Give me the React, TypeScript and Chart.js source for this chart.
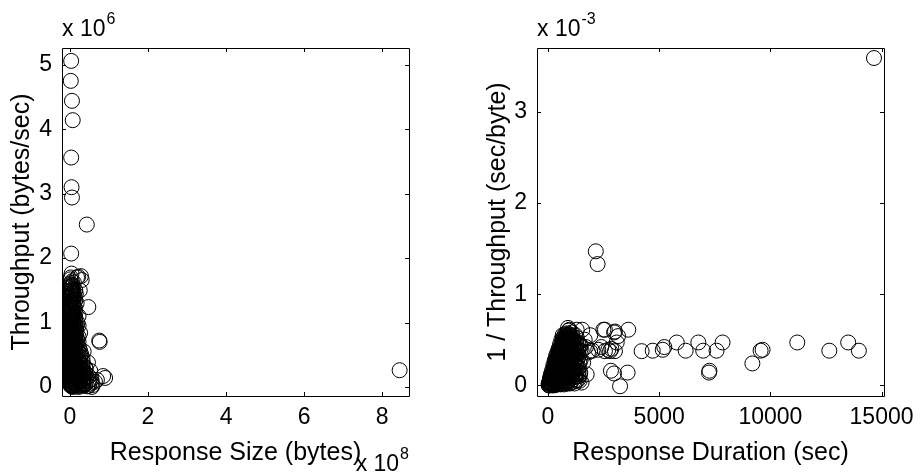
import { useEffect, useRef } from "react";
import { Chart, registerables } from "chart.js";

Chart.register(...registerables);

const FONT = "'Liberation Sans', Arial, Helvetica, sans-serif";
const TICK_SIZE = 23;
const TITLE_SIZE = 25;

type Pt = [number, number];

// ---------- Left panel: Response Size (x 1e8 bytes) vs Throughput (x 1e6 bytes/sec)
const sizeOutliers: Pt[] = [
  [0.03, 5.06], [0.02, 4.75], [0.05, 4.44], [0.07, 4.14], [0.03, 3.56], [0.04, 3.10],
  [0.05, 2.94], [0.43, 2.52], [0.03, 2.07], [8.45, 0.26], [0.75, 0.72], [0.76, 0.70],
  [0.64, 0.08], [0.69, 0.11], [0.85, 0.17], [0.90, 0.14], [0.47, 1.24], [0.21, 1.71],
  [0.30, 1.66], [0.28, 1.72], [0.25, 1.50], [0.26, 0.84],
];
const sizeColumnA: Pt[] = [
  [0.04, 1.76], [0.02, 1.70], [0.05, 1.64], [0.01, 1.59], [0.03, 1.55], [0.06, 1.50],
  [0.02, 1.46], [0.04, 1.42], [0.01, 1.38], [0.05, 1.34], [0.03, 1.30], [0.02, 1.26],
  [0.06, 1.22], [0.01, 1.18], [0.04, 1.14], [0.03, 1.10], [0.05, 1.06], [0.02, 1.02],
  [0.04, 0.98], [0.01, 0.94], [0.03, 0.90], [0.06, 0.86], [0.02, 0.82], [0.04, 0.78],
  [0.01, 0.74], [0.05, 0.70], [0.03, 0.66], [0.02, 0.62], [0.04, 0.58], [0.01, 0.54],
  [0.06, 0.50], [0.03, 0.46], [0.02, 0.42], [0.05, 0.38], [0.01, 0.34], [0.04, 0.30],
  [0.03, 0.26], [0.02, 0.22], [0.05, 0.18], [0.01, 0.14], [0.04, 0.10], [0.02, 0.06],
  [0.03, 0.03], [0.05, 0.01],
];
const sizeColumnB: Pt[] = [
  [0.10, 1.62], [0.08, 1.48], [0.12, 1.40], [0.09, 1.33], [0.11, 1.25], [0.08, 1.18],
  [0.10, 1.12], [0.12, 1.05], [0.09, 0.98], [0.11, 0.92], [0.08, 0.85], [0.10, 0.80],
  [0.12, 0.74], [0.09, 0.68], [0.11, 0.62], [0.08, 0.56], [0.10, 0.50], [0.12, 0.44],
  [0.09, 0.38], [0.11, 0.32], [0.08, 0.26], [0.10, 0.20], [0.12, 0.14], [0.09, 0.08],
  [0.11, 0.02],
];
const sizeColumnC: Pt[] = [
  [0.18, 1.70], [0.15, 1.44], [0.17, 1.30], [0.14, 1.15], [0.19, 1.00], [0.16, 0.90],
  [0.14, 0.80], [0.18, 0.72], [0.15, 0.64], [0.20, 0.56], [0.16, 0.48], [0.14, 0.40],
  [0.19, 0.33], [0.17, 0.26], [0.15, 0.19], [0.20, 0.12], [0.16, 0.05], [0.18, 0.01],
];
const sizeColumnD: Pt[] = [
  [0.24, 0.60], [0.29, 0.50], [0.22, 0.42], [0.27, 0.34], [0.30, 0.27], [0.23, 0.20],
  [0.28, 0.13], [0.25, 0.07], [0.29, 0.02], [0.35, 0.55], [0.33, 0.38], [0.40, 0.30],
  [0.36, 0.22], [0.42, 0.15], [0.34, 0.09], [0.38, 0.04], [0.44, 0.01], [0.46, 0.38],
  [0.52, 0.25], [0.55, 0.12], [0.50, 0.05], [0.58, 0.03],
];
const sizeCore: Pt[] = [
  [0.00, 0.05], [0.00, 0.12], [0.00, 0.19], [0.00, 0.27], [0.00, 0.35], [0.00, 0.43],
  [0.00, 0.51], [0.00, 0.59], [0.00, 0.67], [0.00, 0.75], [0.00, 0.83], [0.00, 0.91],
  [0.00, 0.99], [0.00, 1.08], [0.00, 1.16], [0.00, 1.24], [0.00, 1.32], [0.00, 1.40],
  [0.00, 1.48], [0.00, 1.56],
  [0.065, 0.00], [0.065, 0.09], [0.065, 0.16], [0.065, 0.23], [0.065, 0.31], [0.065, 0.39],
  [0.065, 0.47], [0.065, 0.55], [0.065, 0.63], [0.065, 0.71], [0.065, 0.79], [0.065, 0.87],
  [0.065, 0.95], [0.065, 1.03], [0.065, 1.12], [0.065, 1.20], [0.065, 1.28], [0.065, 1.36],
  [0.065, 1.44], [0.065, 1.52], [0.065, 1.58],
  [0.135, 0.04], [0.135, 0.11], [0.135, 0.18], [0.135, 0.25], [0.135, 0.33], [0.135, 0.41],
  [0.135, 0.49], [0.135, 0.57], [0.135, 0.65], [0.135, 0.73], [0.135, 0.81], [0.135, 0.89],
  [0.135, 0.97], [0.135, 1.08], [0.135, 1.22], [0.135, 1.35], [0.135, 1.50],
  [0.22, 0.00], [0.22, 0.09], [0.22, 0.16], [0.22, 0.24], [0.22, 0.31], [0.22, 0.38],
  [0.22, 0.45], [0.22, 0.53], [0.22, 0.62], [0.22, 0.70], [0.22, 0.78], [0.22, 0.95],
  [0.22, 1.10],
  [0.32, 0.03], [0.32, 0.10], [0.32, 0.18], [0.32, 0.26], [0.32, 0.35], [0.32, 0.45],
  [0.40, 0.05], [0.40, 0.13], [0.40, 0.21], [0.40, 0.28],
  [0.48, 0.02], [0.48, 0.09], [0.48, 0.17], [0.56, 0.00], [0.56, 0.07],
];
const sizeCoreDense: Pt[] = [
  [0.015, 0.02], [0.02, 0.08], [0.01, 0.11], [0.015, 0.17], [0.02, 0.23], [0.01, 0.26],
  [0.015, 0.33], [0.02, 0.36], [0.01, 0.44], [0.015, 0.47], [0.02, 0.52], [0.01, 0.58],
  [0.015, 0.61], [0.02, 0.69], [0.01, 0.72], [0.015, 0.77], [0.02, 0.84], [0.01, 0.88],
  [0.015, 0.93], [0.02, 0.97], [0.01, 1.04], [0.015, 1.09], [0.02, 1.13], [0.01, 1.19],
  [0.015, 1.21], [0.02, 1.28], [0.01, 1.34], [0.015, 1.37], [0.02, 1.43], [0.01, 1.49],
  [0.015, 1.53], [0.02, 1.61], [0.01, 1.67],
  [0.045, 0.04], [0.05, 0.07], [0.04, 0.14], [0.045, 0.21], [0.05, 0.24], [0.04, 0.29],
  [0.045, 0.37], [0.05, 0.41], [0.04, 0.45], [0.045, 0.53], [0.05, 0.56], [0.04, 0.63],
  [0.045, 0.68], [0.05, 0.73], [0.04, 0.81], [0.045, 0.85], [0.05, 0.91], [0.04, 0.96],
  [0.045, 1.01], [0.05, 1.07], [0.04, 1.15], [0.045, 1.18], [0.05, 1.24], [0.04, 1.31],
  [0.045, 1.39], [0.05, 1.45], [0.04, 1.51], [0.045, 1.57],
  [0.09, 0.01], [0.095, 0.06], [0.085, 0.13], [0.09, 0.17], [0.095, 0.22], [0.085, 0.29],
  [0.09, 0.35], [0.095, 0.41], [0.085, 0.46], [0.09, 0.53], [0.095, 0.59], [0.085, 0.66],
  [0.09, 0.71], [0.095, 0.77], [0.085, 0.83], [0.09, 0.89], [0.095, 0.94], [0.085, 1.02],
  [0.09, 1.09], [0.095, 1.15], [0.085, 1.27], [0.09, 1.37], [0.095, 1.46],
  [0.17, 0.03], [0.175, 0.08], [0.165, 0.15], [0.17, 0.22], [0.175, 0.29], [0.165, 0.36],
  [0.17, 0.44], [0.175, 0.52], [0.165, 0.60], [0.17, 0.68], [0.175, 0.76], [0.165, 0.85],
  [0.17, 0.95],
  [0.26, 0.04], [0.265, 0.11], [0.255, 0.18], [0.26, 0.23], [0.265, 0.30], [0.255, 0.37],
  [0.26, 0.46], [0.265, 0.55],
  [0.34, 0.02], [0.345, 0.06], [0.335, 0.13], [0.34, 0.20], [0.345, 0.27],
];
const leftXTicks = [0, 2, 4, 6, 8];
const leftYTicks = [0, 1, 2, 3, 4, 5];

// ---------- Right panel: Response Duration (sec) vs 1/Throughput (x 1e-3 sec/byte)
const durationOutliers: Pt[] = [
  [14660, 3.59], [2150, 1.47], [2230, 1.33],
  [960, 0.61], [1540, 0.61], [2490, 0.61], [2970, 0.58], [3610, 0.61], [3090, 0.47],
  [2260, 0.39], [2710, 0.39], [2850, 0.40], [4210, 0.375], [4710, 0.38], [5160, 0.39],
  [5230, 0.42], [5790, 0.47], [6190, 0.38], [6760, 0.47], [6980, 0.38], [7580, 0.38],
  [7850, 0.47], [7240, 0.14], [7260, 0.16], [9190, 0.24], [9560, 0.38], [9650, 0.39],
  [11210, 0.47], [12650, 0.38], [13500, 0.47], [13980, 0.38],
  [2970, 0.13], [3580, 0.14], [3240, -0.01], [1440, 0.12], [1510, 0.03], [1290, 0.61],
  [900, 0.63], [1440, 0.43], [1580, 0.25], [1740, 0.12], [1515, 0.375], [1890, 0.375],
  [2560, 0.375], [2790, 0.375], [3010, 0.375], [2560, 0.61], [3010, 0.59], [3150, 0.54],
  [1360, 0.14], [1210, 0.25], [2830, 0.16], [1700, 0.42], [1800, 0.36], [2000, 0.38],
  [1650, 0.50], [1900, 0.55], [1300, 0.52], [2400, 0.42],
];
const durationCore: Pt[] = [
  [50, 0.00], [40, 0.02], [70, 0.04], [100, 0.01], [110, 0.05], [90, 0.08], [150, 0.02],
  [140, 0.07], [160, 0.11], [200, 0.00], [210, 0.06], [190, 0.12], [220, 0.15],
  [260, 0.03], [250, 0.09], [270, 0.16], [280, 0.20], [320, 0.01], [310, 0.08], [330, 0.14],
  [300, 0.21], [340, 0.25], [380, 0.04], [370, 0.11], [390, 0.18], [400, 0.24], [380, 0.29],
  [440, 0.02], [430, 0.09], [450, 0.15], [460, 0.22], [440, 0.28], [420, 0.34],
  [500, 0.05], [510, 0.12], [490, 0.19], [520, 0.26], [500, 0.33], [480, 0.38],
  [560, 0.01], [570, 0.08], [550, 0.16], [580, 0.23], [560, 0.30], [540, 0.36], [570, 0.43],
  [620, 0.04], [610, 0.11], [630, 0.19], [640, 0.27], [620, 0.34], [600, 0.41], [630, 0.47],
  [680, 0.02], [690, 0.09], [670, 0.17], [700, 0.25], [680, 0.32], [660, 0.40], [690, 0.46],
  [700, 0.52], [750, 0.06], [760, 0.14], [740, 0.22], [770, 0.30], [750, 0.38], [730, 0.45],
  [760, 0.51], [770, 0.56], [820, 0.03], [830, 0.12], [810, 0.20], [840, 0.29], [820, 0.37],
  [800, 0.44], [830, 0.50], [840, 0.55], [900, 0.05], [910, 0.15], [890, 0.24], [920, 0.33],
  [900, 0.42], [880, 0.49], [910, 0.54], [930, 0.60], [980, 0.02], [990, 0.11], [970, 0.21],
  [1000, 0.31], [980, 0.40], [960, 0.47], [990, 0.53], [1060, 0.08], [1070, 0.18],
  [1050, 0.28], [1080, 0.37], [1060, 0.45], [1040, 0.52], [1070, 0.58], [1150, 0.04],
  [1160, 0.14], [1140, 0.25], [1170, 0.35], [1150, 0.43], [1130, 0.50], [1250, 0.10],
  [1260, 0.22], [1240, 0.33], [1270, 0.41], [1250, 0.48], [1230, 0.55], [1350, 0.06],
  [1360, 0.19], [1340, 0.30], [1370, 0.39], [1350, 0.46], [1450, 0.14], [1460, 0.27],
  [1440, 0.38], [1470, 0.44],
];
const durationCoreFill: Pt[] = [
  [30, 0.00], [30, 0.02], [80, 0.00], [80, 0.03], [80, 0.06], [130, 0.01], [130, 0.05],
  [130, 0.09], [130, 0.12], [180, 0.00], [180, 0.04], [180, 0.08], [180, 0.12], [180, 0.16],
  [240, 0.02], [240, 0.06], [240, 0.11], [240, 0.15], [240, 0.19], [240, 0.22],
  [300, 0.00], [300, 0.05], [300, 0.10], [300, 0.15], [300, 0.20], [300, 0.24], [300, 0.27],
  [360, 0.03], [360, 0.08], [360, 0.13], [360, 0.18], [360, 0.23], [360, 0.28], [360, 0.32],
  [420, 0.01], [420, 0.06], [420, 0.11], [420, 0.16], [420, 0.21], [420, 0.26], [420, 0.31],
  [420, 0.36], [480, 0.04], [480, 0.09], [480, 0.14], [480, 0.19], [480, 0.24], [480, 0.29],
  [480, 0.34], [480, 0.40], [540, 0.02], [540, 0.07], [540, 0.12], [540, 0.17], [540, 0.22],
  [540, 0.27], [540, 0.33], [540, 0.39], [540, 0.45], [600, 0.05], [600, 0.10], [600, 0.15],
  [600, 0.20], [600, 0.25], [600, 0.31], [600, 0.37], [600, 0.44], [600, 0.50],
  [660, 0.03], [660, 0.08], [660, 0.13], [660, 0.18], [660, 0.23], [660, 0.29], [660, 0.35],
  [660, 0.43], [660, 0.49], [660, 0.55], [720, 0.01], [720, 0.06], [720, 0.11], [720, 0.16],
  [720, 0.21], [720, 0.27], [720, 0.33], [720, 0.41], [720, 0.48], [720, 0.54],
  [790, 0.04], [790, 0.09], [790, 0.15], [790, 0.21], [790, 0.27], [790, 0.34], [790, 0.41],
  [790, 0.47], [790, 0.53], [860, 0.02], [860, 0.08], [860, 0.14], [860, 0.20], [860, 0.26],
  [860, 0.33], [860, 0.40], [860, 0.46], [860, 0.52], [860, 0.57], [940, 0.05], [940, 0.12],
  [940, 0.18], [940, 0.25], [940, 0.32], [940, 0.39], [940, 0.45], [940, 0.51], [940, 0.56],
  [1020, 0.03], [1020, 0.10], [1020, 0.16], [1020, 0.23], [1020, 0.30], [1020, 0.37],
  [1020, 0.44], [1020, 0.50], [1020, 0.55], [1100, 0.06], [1100, 0.13], [1100, 0.21],
  [1100, 0.29], [1100, 0.36], [1100, 0.43], [1100, 0.49], [1100, 0.54], [1190, 0.02],
  [1190, 0.09], [1190, 0.17], [1190, 0.26], [1190, 0.34], [1190, 0.41], [1190, 0.47],
  [1280, 0.05], [1280, 0.13], [1280, 0.22], [1280, 0.31], [1280, 0.39], [1280, 0.45],
  [1380, 0.10], [1380, 0.20], [1380, 0.32],
];
const durationCoreExtra: Pt[] = [
  [60, 0.03], [120, 0.03], [170, 0.10], [210, 0.03], [230, 0.13], [270, 0.06], [290, 0.12],
  [330, 0.18], [350, 0.05], [370, 0.22], [400, 0.14], [410, 0.27], [450, 0.07], [460, 0.31],
  [470, 0.18], [510, 0.22], [520, 0.37], [530, 0.10], [550, 0.29], [580, 0.41], [590, 0.14],
  [610, 0.35], [640, 0.22], [650, 0.46], [700, 0.12], [710, 0.37], [730, 0.51], [740, 0.27],
  [780, 0.18], [800, 0.49], [810, 0.32], [850, 0.11], [870, 0.43], [880, 0.29], [920, 0.52],
  [950, 0.16], [960, 0.36], [1000, 0.25], [1010, 0.47], [1040, 0.12], [1090, 0.32],
  [1110, 0.51], [1130, 0.19], [1180, 0.38], [1210, 0.12], [1230, 0.29], [1300, 0.20],
  [1320, 0.36], [1400, 0.25], [1420, 0.05],
];
const rightXTicks = [0, 5000, 10000, 15000];
const rightYTicks = [0, 1, 2, 3];

type PanelCfg = {
  points: Pt[];
  xMin: number;
  xMax: number;
  yMin: number;
  yMax: number;
  xTicks: number[];
  yTicks: number[];
  xTitle: string;
  yTitle: string;
  yAxisWidth: number;
  yTitlePad: number;
  padRight: number;
  yExp: string;
  xExp?: string;
};

const matlabAxes = {
  id: "matlabAxes",
  afterDraw(chart: any, _args: any, opts: any) {
    const { ctx, chartArea } = chart;
    const { left, right, top, bottom } = chartArea;
    const xs = chart.scales.x;
    const ys = chart.scales.y;
    const tl = 4;
    ctx.save();
    ctx.strokeStyle = "#000";
    ctx.lineWidth = 1;
    ctx.beginPath();
    ctx.rect(Math.round(left) + 0.5, Math.round(top) + 0.5, Math.round(right - left), Math.round(bottom - top));
    ctx.stroke();
    ctx.beginPath();
    for (const t of xs.ticks) {
      const px = Math.round(xs.getPixelForValue(t.value)) + 0.5;
      ctx.moveTo(px, bottom);
      ctx.lineTo(px, bottom - tl);
      ctx.moveTo(px, top);
      ctx.lineTo(px, top + tl);
    }
    for (const t of ys.ticks) {
      const py = Math.round(ys.getPixelForValue(t.value)) + 0.5;
      ctx.moveTo(left, py);
      ctx.lineTo(left + tl, py);
      ctx.moveTo(right, py);
      ctx.lineTo(right - tl, py);
    }
    ctx.stroke();

    const drawExp = (x: number, y: number, exp: string, alignRight: boolean) => {
      ctx.fillStyle = "#000";
      ctx.textAlign = "left";
      ctx.textBaseline = "alphabetic";
      ctx.font = `${TICK_SIZE}px ${FONT}`;
      const base = "x 10";
      const bw = ctx.measureText(base).width;
      ctx.font = `16px ${FONT}`;
      const ew = ctx.measureText(exp).width;
      const sx = alignRight ? x - bw - ew - 1 : x;
      ctx.font = `${TICK_SIZE}px ${FONT}`;
      ctx.fillText(base, sx, y);
      ctx.font = `16px ${FONT}`;
      ctx.fillText(exp, sx + bw + 1, y - 12);
    };
    if (opts.yExp) drawExp(left, 36, opts.yExp, false);
    if (opts.xExp) drawExp(right, 471, opts.xExp, true);
    ctx.restore();
  },
};

function Panel({ cfg }: { cfg: PanelCfg }) {
  const ref = useRef<HTMLCanvasElement | null>(null);
  useEffect(() => {
    if (!ref.current) return;
    const tickFont = { family: FONT, size: TICK_SIZE };
    const titleFont = { family: FONT, size: TITLE_SIZE };
    const chart = new Chart(ref.current, {
      type: "scatter",
      data: {
        datasets: [
          {
            data: cfg.points.map(([x, y]) => ({ x, y })),
            pointStyle: "circle",
            pointRadius: 7.5,
            pointBorderWidth: 1,
            pointBorderColor: "#000",
            pointBackgroundColor: "rgba(0,0,0,0)",
            clip: false as any,
          },
        ],
      },
      options: {
        animation: false,
        responsive: false,
        events: [],
        layout: { padding: { top: 48, right: cfg.padRight, left: 0, bottom: 0 } },
        plugins: {
          legend: { display: false },
          tooltip: { enabled: false },
          matlabAxes: { yExp: cfg.yExp, xExp: cfg.xExp },
        } as any,
        scales: {
          x: {
            type: "linear",
            min: cfg.xMin,
            max: cfg.xMax,
            grid: { display: false, drawTicks: false },
            border: { display: false },
            afterBuildTicks: (s: any) => {
              s.ticks = cfg.xTicks.map((v) => ({ value: v }));
            },
            afterFit: (s: any) => {
              s.height = 77;
              s.paddingLeft = 0;
              s.paddingRight = 0;
            },
            ticks: {
              font: tickFont,
              color: "#000",
              padding: 8,
              maxRotation: 0,
              autoSkip: false,
              callback: (v: any) => String(v),
            },
            title: {
              display: true,
              text: cfg.xTitle,
              font: titleFont,
              color: "#000",
              padding: { top: 0, bottom: 5 },
            },
          },
          y: {
            type: "linear",
            min: cfg.yMin,
            max: cfg.yMax,
            grid: { display: false, drawTicks: false },
            border: { display: false },
            afterBuildTicks: (s: any) => {
              s.ticks = cfg.yTicks.map((v) => ({ value: v }));
            },
            afterFit: (s: any) => {
              s.width = cfg.yAxisWidth;
              s.paddingTop = 0;
              s.paddingBottom = 0;
            },
            ticks: {
              font: tickFont,
              color: "#000",
              padding: 10,
              autoSkip: false,
              callback: (v: any) => String(v),
            },
            title: {
              display: true,
              text: cfg.yTitle,
              font: titleFont,
              color: "#000",
              padding: { top: cfg.yTitlePad, bottom: 0 },
            },
          },
        },
      },
      plugins: [matlabAxes],
    });
    return () => chart.destroy();
  }, [cfg]);
  return <canvas ref={ref} width={460} height={473} style={{ display: "block" }} />;
}

const leftCfg: PanelCfg = {
  points: [
    ...sizeCore, ...sizeCoreDense, ...sizeColumnA, ...sizeColumnB, ...sizeColumnC,
    ...sizeColumnD, ...sizeOutliers,
  ],
  xMin: -0.205,
  xMax: 8.69,
  yMin: -0.14,
  yMax: 5.26,
  xTicks: leftXTicks,
  yTicks: leftYTicks,
  xTitle: "Response Size (bytes)",
  yTitle: "Throughput (bytes/sec)",
  yAxisWidth: 62,
  yTitlePad: 7,
  padRight: 51,
  yExp: "6",
  xExp: "8",
};

const rightCfg: PanelCfg = {
  points: [...durationCore, ...durationCoreFill, ...durationCoreExtra, ...durationOutliers],
  xMin: -495,
  xMax: 15110,
  yMin: -0.117,
  yMax: 3.7,
  xTicks: rightXTicks,
  yTicks: rightYTicks,
  xTitle: "Response Duration (sec)",
  yTitle: "1 / Throughput (sec/byte)",
  yAxisWidth: 77,
  yTitlePad: 23,
  padRight: 36,
  yExp: "-3",
};

export default function App() {
  return (
    <div
      style={{
        position: "fixed",
        left: 0,
        top: 0,
        width: 920,
        height: 473,
        background: "#fff",
        display: "flex",
      }}
    >
      <Panel cfg={leftCfg} />
      <Panel cfg={rightCfg} />
    </div>
  );
}
